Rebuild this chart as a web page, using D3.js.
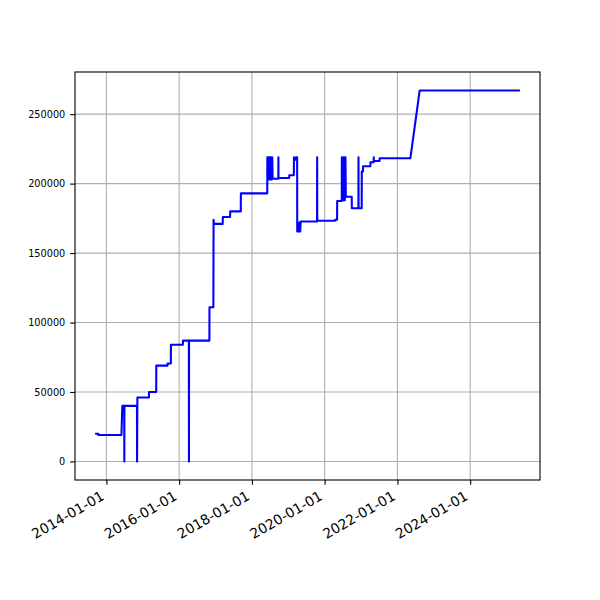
<!DOCTYPE html>
<html>
<head>
<meta charset="utf-8">
<script src="https://cdn.jsdelivr.net/npm/d3@7"></script>
<style>
  body { margin: 0; background: #fff; }
  svg text { font-family: "DejaVu Sans", sans-serif; fill: #000; }
</style>
</head>
<body>
<svg id="chart" width="600" height="600"></svg>
<script>
// ---- data ----
const dates = [
  "2013-09-20","2013-10-12","2013-10-13","2014-06-01","2014-06-10","2014-06-29","2014-06-30","2014-07-01",
  "2014-11-04","2014-11-05","2014-11-08","2015-03-04","2015-03-05","2015-05-16","2015-05-17","2015-09-06",
  "2015-09-07","2015-10-10","2015-10-11","2016-02-08","2016-02-09","2016-04-08","2016-04-09","2016-04-10",
  "2016-10-31","2016-11-01","2016-12-10","2016-12-12","2016-12-15","2017-03-14","2017-03-15","2017-05-27",
  "2017-05-28","2017-09-11","2017-09-12","2018-06-04","2018-06-05","2018-06-10","2018-06-14","2018-06-19",
  "2018-06-24","2018-06-29","2018-07-04","2018-07-09","2018-07-14","2018-07-19","2018-07-24","2018-07-28",
  "2018-09-23","2018-09-24","2018-09-25","2019-01-10","2019-01-11","2019-02-26","2019-02-27","2019-03-10",
  "2019-03-20","2019-03-31","2019-04-01","2019-04-10","2019-04-15","2019-04-25","2019-05-01","2019-05-05",
  "2019-10-17","2019-10-18","2019-10-19","2020-04-15","2020-04-16","2020-05-05","2020-05-06","2020-06-21",
  "2020-06-22","2020-06-28","2020-07-04","2020-07-10","2020-07-16","2020-07-22","2020-07-28","2020-08-01",
  "2020-08-02","2020-09-29","2020-09-30","2020-12-05","2020-12-06","2020-12-07","2021-01-07","2021-01-08",
  "2021-01-20","2021-01-21","2021-04-04","2021-04-05","2021-05-07","2021-05-08","2021-05-09","2021-07-06",
  "2021-07-07","2022-05-11","2022-08-12","2025-05-04"
];
const values = [
  20000,20000,19000,19000,40000,40000,0,40000,
  40000,0,46000,46000,50000,50000,69000,69000,
  70500,70500,84000,84000,87000,87000,0,87000,
  87000,111000,111000,174000,171000,171000,176000,176000,
  180000,180000,193000,193000,219000,203000,219000,203000,
  219000,203000,219000,203000,219000,203000,219000,203500,
  203500,219000,204000,204000,206000,206000,219000,217000,
  219000,219000,165500,172000,165500,172000,165500,172700,
  172700,219000,173300,173300,174000,174000,187500,187500,
  219000,188000,219000,188000,219000,188000,219000,190500,
  190500,190500,182300,182300,219000,182300,182300,208700,
  208700,212500,212500,215400,215400,219000,216300,216300,
  218300,218300,267000,267000
];
const xTickLabels = ["2014-01-01","2016-01-01","2018-01-01","2020-01-01","2022-01-01","2024-01-01"];
const yTickValues = [0, 50000, 100000, 150000, 200000, 250000];

// ---- layout / style ----
const svg = d3.select("#chart");
const mLeft = 75, mRight = 540, mTop = 72, mBottom = 480;
const tickLen = 4.86, tickPad = 4.86;
const xFont = 13.9, yFont = 9.72;
const angle = 30 * Math.PI / 180;
const parse = d3.timeParse("%Y-%m-%d");
const data = dates.map((d, i) => ({ date: parse(d), value: values[i] }));

const xExt = d3.extent(data, d => +d.date);
const xPad = (xExt[1] - xExt[0]) * 0.05;
const x = d3.scaleTime()
  .domain([new Date(xExt[0] - xPad), new Date(xExt[1] + xPad)])
  .range([mLeft, mRight]);

const yExt = d3.extent(values);
const yPad = (yExt[1] - yExt[0]) * 0.05;
const y = d3.scaleLinear()
  .domain([yExt[0] - yPad, yExt[1] + yPad])
  .range([mBottom, mTop]);

const xTicks = xTickLabels.map(parse);

// grid
const grid = svg.append("g");
grid.selectAll(".gx").data(xTicks).enter().append("line")
  .attr("x1", d => x(d)).attr("x2", d => x(d))
  .attr("y1", mTop).attr("y2", mBottom)
  .attr("stroke", "#b0b0b0").attr("stroke-width", 1.1);
grid.selectAll(".gy").data(yTickValues).enter().append("line")
  .attr("x1", mLeft).attr("x2", mRight)
  .attr("y1", d => y(d)).attr("y2", d => y(d))
  .attr("stroke", "#b0b0b0").attr("stroke-width", 1.1);

// line
const line = d3.line().x(d => x(d.date)).y(d => y(d.value));
svg.append("path").datum(data)
  .attr("d", line)
  .attr("fill", "none")
  .attr("stroke", "#0000ff")
  .attr("stroke-width", 2.08)
  .attr("stroke-linejoin", "round")
  .attr("stroke-linecap", "square");

// frame
svg.append("rect")
  .attr("x", mLeft).attr("y", mTop)
  .attr("width", mRight - mLeft).attr("height", mBottom - mTop)
  .attr("fill", "none").attr("stroke", "#000").attr("stroke-width", 1.1);

// x axis
const xAxis = d3.axisBottom(x)
  .tickValues(xTicks)
  .tickFormat(d3.timeFormat("%Y-%m-%d"))
  .tickSize(tickLen).tickSizeOuter(0).tickPadding(tickPad);
const gx = svg.append("g").attr("transform", `translate(0,${mBottom})`).call(xAxis);
gx.select(".domain").remove();
gx.selectAll(".tick line").attr("stroke", "#000").attr("stroke-width", 1.1);
const asc = 0.76 * xFont, desc = 0.236 * xFont;
const dx = -desc * Math.sin(angle);
const dy = tickLen + tickPad + asc * Math.cos(angle);
gx.selectAll(".tick text")
  .attr("text-anchor", "end")
  .attr("y", 0).attr("dy", 0)
  .attr("transform", `translate(${dx},${dy}) rotate(-30)`)
  .attr("font-family", "DejaVu Sans")
  .attr("font-size", xFont);

// y axis
const yAxis = d3.axisLeft(y)
  .tickValues(yTickValues)
  .tickFormat(d3.format("d"))
  .tickSize(tickLen).tickSizeOuter(0).tickPadding(tickPad);
const gy = svg.append("g").attr("transform", `translate(${mLeft},0)`).call(yAxis);
gy.select(".domain").remove();
gy.selectAll(".tick line").attr("stroke", "#000").attr("stroke-width", 1.1);
gy.selectAll(".tick text")
  .attr("font-family", "DejaVu Sans")
  .attr("font-size", yFont);
</script>
</body>
</html>
